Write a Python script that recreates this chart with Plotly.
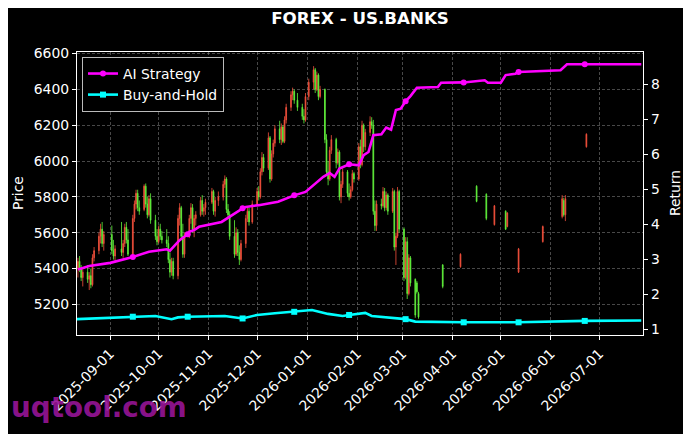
import plotly.graph_objects as go

# ---------------- data ----------------
candle_dates = [
    "2025-08-12","2025-08-13","2025-08-14","2025-08-15","2025-08-18","2025-08-19","2025-08-20","2025-08-21","2025-08-22",
    "2025-08-25","2025-08-26","2025-08-27","2025-08-28","2025-09-02","2025-09-03","2025-09-04","2025-09-08","2025-09-09",
    "2025-09-10","2025-09-11","2025-09-12","2025-09-15","2025-09-16","2025-09-17","2025-09-18","2025-09-19","2025-09-22",
    "2025-09-23","2025-09-24","2025-09-25","2025-09-26","2025-09-29","2025-09-30","2025-10-01","2025-10-02","2025-10-03",
    "2025-10-06","2025-10-07","2025-10-08","2025-10-09","2025-10-10","2025-10-13","2025-10-14","2025-10-15","2025-10-16",
    "2025-10-17","2025-10-20","2025-10-21","2025-10-22","2025-10-23","2025-10-24","2025-10-27","2025-10-28","2025-10-29",
    "2025-10-30","2025-11-03","2025-11-04","2025-11-05","2025-11-07","2025-11-10","2025-11-11","2025-11-12","2025-11-13",
    "2025-11-14","2025-11-17","2025-11-18","2025-11-19","2025-11-20","2025-11-21","2025-11-24","2025-11-25","2025-11-26",
    "2025-11-28","2025-12-01","2025-12-02","2025-12-03","2025-12-04","2025-12-05","2025-12-08","2025-12-09","2025-12-10",
    "2025-12-11","2025-12-12","2025-12-15","2025-12-16","2025-12-17","2025-12-18","2025-12-19","2025-12-22","2025-12-23",
    "2025-12-24","2025-12-26","2025-12-29","2025-12-30","2025-12-31","2026-01-02","2026-01-05","2026-01-06","2026-01-07",
    "2026-01-08","2026-01-09","2026-01-12","2026-01-13","2026-01-14","2026-01-15","2026-01-16","2026-01-19","2026-01-20",
    "2026-01-21","2026-01-22","2026-01-23","2026-01-26","2026-01-27","2026-01-28","2026-01-29","2026-01-30","2026-02-02",
    "2026-02-03","2026-02-04","2026-02-05","2026-02-06","2026-02-09","2026-02-10","2026-02-11","2026-02-12","2026-02-13",
    "2026-02-16","2026-02-17","2026-02-18","2026-02-19","2026-02-20","2026-02-23","2026-02-24","2026-02-25","2026-02-26",
    "2026-02-27","2026-03-02","2026-03-03","2026-03-04","2026-03-05","2026-03-06","2026-03-09","2026-03-10","2026-03-11",
    "2026-03-26","2026-04-06","2026-04-16","2026-04-22","2026-04-27","2026-05-04","2026-05-05","2026-05-12","2026-05-27",
    "2026-06-08","2026-06-09","2026-06-10","2026-06-23",
]
opens = [
    5400,5440,5400,5350,5380,5340,5360,5310,5460,
    5500,5580,5620,5540,5590,5500,5470,5510,5490,
    5540,5630,5560,5480,5680,5760,5820,5740,5730,
    5860,5760,5700,5790,5670,5580,5550,5620,5580,
    5560,5540,5450,5380,5440,5360,5680,5740,5580,
    5480,5580,5680,5740,5620,5680,5700,5780,5720,
    5740,5770,5830,5720,5780,5800,5870,5900,5730,
    5700,5580,5480,5600,5490,5450,5540,5680,5720,
    5660,5760,5830,5800,5940,6020,5960,6130,5900,
    6040,6100,6180,6120,6190,6110,6230,6300,6370,
    6390,6340,6300,6250,6230,6360,6440,6510,6400,
    6480,6360,6400,6120,5940,5900,6060,6120,5990,
    6050,5800,5870,5940,5820,5800,5840,5930,5900,
    6080,5980,6200,6080,6160,6220,6200,5720,5640,
    5760,5750,5830,5740,5810,5720,5830,5520,5580,
    5830,5620,5350,5550,5260,5460,5340,5320,5260,
    5420,5410,5860,5815,5645,5720,5635,5380,5550,
    5690,5780,5700,6080,
]
highs = [
    5460,5470,5420,5400,5420,5380,5400,5480,5520,
    5600,5650,5660,5610,5640,5560,5530,5660,5560,
    5650,5660,5620,5700,5780,5840,5840,5780,5870,
    5875,5800,5810,5820,5700,5620,5640,5650,5610,
    5620,5580,5490,5460,5460,5700,5765,5750,5650,
    5600,5700,5765,5760,5700,5720,5800,5810,5760,
    5790,5850,5840,5800,5830,5890,5920,5910,5760,
    5720,5670,5630,5620,5530,5560,5700,5740,5740,
    5780,5850,5860,5960,6050,6040,6160,6140,6060,
    6120,6200,6225,6210,6200,6250,6320,6390,6410,
    6400,6380,6320,6290,6380,6460,6530,6520,6500,
    6490,6420,6405,6150,6000,6080,6145,6130,6070,
    6060,5890,5960,5950,5875,5860,5950,5940,6100,
    6120,6225,6210,6180,6250,6245,6230,5780,5780,
    5790,5855,5850,5830,5820,5850,5840,5600,5855,
    5840,5630,5575,5575,5480,5470,5345,5330,5270,
    5425,5485,5865,5820,5755,5725,5715,5515,5640,
    5810,5795,5810,6155,
]
lows = [
    5350,5380,5330,5300,5320,5280,5290,5300,5440,
    5480,5540,5520,5500,5480,5450,5440,5470,5460,
    5520,5540,5470,5470,5660,5730,5720,5700,5720,
    5740,5680,5690,5650,5560,5530,5540,5560,5540,
    5520,5430,5350,5360,5340,5340,5640,5560,5460,
    5460,5570,5650,5600,5575,5640,5690,5700,5690,
    5700,5760,5700,5690,5750,5780,5850,5710,5680,
    5560,5460,5470,5470,5420,5440,5515,5660,5640,
    5650,5750,5780,5790,5920,5940,5950,5880,5890,
    6020,6080,6100,6090,6100,6100,6210,6280,6340,
    6320,6280,6230,6210,6220,6340,6400,6380,6390,
    6340,6350,6100,5920,5865,5890,6040,5960,5980,
    5780,5765,5850,5800,5780,5790,5830,5880,5890,
    5960,5970,6050,6060,6140,6180,5700,5610,5610,
    5730,5740,5720,5725,5700,5710,5500,5420,5570,
    5600,5330,5340,5230,5250,5300,5125,5260,5120,
    5290,5405,5770,5670,5640,5615,5630,5375,5545,
    5680,5690,5665,6075,
]
closes = [
    5440,5400,5350,5380,5340,5360,5310,5460,5500,
    5580,5620,5540,5590,5500,5470,5510,5490,5540,
    5630,5560,5480,5680,5760,5820,5740,5720,5860,
    5760,5700,5790,5670,5580,5550,5620,5580,5560,
    5540,5450,5380,5440,5360,5680,5740,5580,5480,
    5580,5680,5740,5620,5680,5700,5780,5720,5740,
    5770,5830,5720,5780,5800,5870,5900,5730,5700,
    5580,5480,5600,5490,5450,5540,5680,5720,5660,
    5760,5830,5800,5940,6020,5960,6130,5900,6040,
    6100,6180,6120,6190,6110,6230,6300,6370,6390,
    6340,6300,6250,6230,6360,6440,6510,6400,6480,
    6360,6400,6120,5940,5900,6060,6120,5990,6050,
    5800,5870,5940,5820,5800,5840,5930,5900,6080,
    5980,6200,6080,6160,6220,6200,5720,5640,5760,
    5750,5830,5740,5810,5720,5830,5520,5580,5830,
    5620,5350,5550,5260,5460,5320,5140,5270,5130,
    5300,5480,5775,5680,5750,5620,5710,5510,5635,
    5790,5700,5790,6150,
]

ai_dates = [
    "2025-08-12","2025-08-15","2025-08-19","2025-09-01","2025-09-15","2025-09-25","2025-10-06","2025-10-08",
    "2025-10-12","2025-10-14","2025-10-19","2025-10-20","2025-10-23","2025-10-26","2025-11-09","2025-11-14",
    "2025-11-20","2025-11-22","2025-11-24","2025-12-02","2025-12-14","2025-12-22","2025-12-24","2025-12-31",
    "2026-01-06","2026-01-11","2026-01-15","2026-01-18","2026-01-21","2026-01-26","2026-01-27","2026-02-02",
    "2026-02-05","2026-02-08","2026-02-11","2026-02-16","2026-02-19","2026-02-22","2026-02-25","2026-02-28",
    "2026-03-03","2026-03-06","2026-03-10","2026-03-23","2026-03-25","2026-04-08","2026-04-21","2026-04-23",
    "2026-05-01","2026-05-04","2026-05-10","2026-05-12","2026-05-24","2026-06-07","2026-06-11","2026-06-22",
    "2026-07-27",
]
ai_values = [
    2.71,2.76,2.81,2.90,3.07,3.22,3.29,3.25,
    3.46,3.55,3.72,3.79,3.84,3.93,4.07,4.22,
    4.41,4.46,4.50,4.55,4.65,4.81,4.83,4.93,
    5.17,5.36,5.47,5.36,5.60,5.72,5.72,5.69,
    5.98,6.07,6.55,6.58,6.77,6.71,7.27,7.31,
    7.52,7.67,7.91,7.93,8.05,8.06,8.12,8.05,
    8.05,8.27,8.31,8.36,8.39,8.41,8.58,8.58,
    8.58,
]

bh_dates = [
    "2025-08-11","2025-08-24","2025-09-01","2025-09-15","2025-09-29","2025-10-09","2025-10-13","2025-10-19",
    "2025-10-28","2025-11-11","2025-11-22","2025-12-01","2025-12-12","2025-12-24","2026-01-04","2026-01-14",
    "2026-01-23","2026-01-27","2026-02-06","2026-02-10","2026-02-20","2026-02-25","2026-03-03","2026-03-09",
    "2026-03-29","2026-04-08","2026-05-12","2026-06-10","2026-06-22","2026-07-27",
]
bh_values = [
    1.29,1.31,1.34,1.36,1.38,1.29,1.34,1.36,
    1.36,1.38,1.31,1.41,1.46,1.50,1.55,1.44,
    1.38,1.41,1.47,1.38,1.34,1.31,1.29,1.22,
    1.20,1.20,1.20,1.24,1.24,1.25,
]

marker_dates = ["2025-09-15","2025-10-19","2025-11-22","2025-12-24","2026-01-27",
                "2026-03-03","2026-04-08","2026-05-12","2026-06-22"]

month_ticks = ["2025-09-01","2025-10-01","2025-11-01","2025-12-01","2026-01-01","2026-02-01",
               "2026-03-01","2026-04-01","2026-05-01","2026-06-01","2026-07-01"]

price_ticks = [5200, 5400, 5600, 5800, 6000, 6200, 6400, 6600]
return_ticks = [1, 2, 3, 4, 5, 6, 7, 8]

# ---------------- style ----------------
FONT = "DejaVu Sans"
UP = "#f5503c"
DOWN = "#62f53c"
MAGENTA = "#ff00ff"
CYAN = "#00ffff"
GRID = "rgba(120,120,120,0.6)"

fig = go.Figure()

fig.add_trace(go.Candlestick(
    x=candle_dates, open=opens, high=highs, low=lows, close=closes,
    increasing=dict(line=dict(color=UP, width=0.8), fillcolor=UP),
    decreasing=dict(line=dict(color=DOWN, width=0.8), fillcolor=DOWN),
    whiskerwidth=0,
    showlegend=False, hoverinfo="skip", yaxis="y",
))

def pick(dates, vals, keys):
    xs, ys = [], []
    for d, v in zip(dates, vals):
        if d in keys:
            xs.append(d); ys.append(v)
    return xs, ys

fig.add_trace(go.Scatter(x=ai_dates, y=ai_values, mode="lines", yaxis="y2",
                         line=dict(color=MAGENTA, width=2.6), showlegend=False))
fig.add_trace(go.Scatter(x=bh_dates, y=bh_values, mode="lines", yaxis="y2",
                         line=dict(color=CYAN, width=2.6), showlegend=False))
mx, my = pick(ai_dates, ai_values, marker_dates)
fig.add_trace(go.Scatter(x=mx, y=my, mode="markers", yaxis="y2",
                         marker=dict(color=MAGENTA, size=6, symbol="circle"), showlegend=False))
mx, my = pick(bh_dates, bh_values, marker_dates)
fig.add_trace(go.Scatter(x=mx, y=my, mode="markers", yaxis="y2",
                         marker=dict(color=CYAN, size=6, symbol="square"), showlegend=False))

# legend entries
fig.add_trace(go.Scatter(x=[None], y=[None], mode="lines+markers", name="AI Strategy", yaxis="y2",
                         line=dict(color=MAGENTA, width=2.6), marker=dict(color=MAGENTA, size=6, symbol="circle")))
fig.add_trace(go.Scatter(x=[None], y=[None], mode="lines+markers", name="Buy-and-Hold", yaxis="y2",
                         line=dict(color=CYAN, width=2.6), marker=dict(color=CYAN, size=6, symbol="square")))

# the page places the figure 8px in from the window's top-left corner
OFF = 8
W, H = 691 - OFF, 434 - OFF
L, R, T, B = 77, 643, 52, 335   # plot area in window pixels

def px(xp):
    return (xp - L) / (R - L)

def py(yp):
    return (B - yp) / (B - T)

fig.update_layout(
    width=W, height=H,
    margin=dict(l=L - OFF, r=691 - R, t=T - OFF, b=434 - B),
    paper_bgcolor="black", plot_bgcolor="black",
    font=dict(family=FONT, size=13.9, color="white"),
    title=dict(text="<b>FOREX - US.BANKS</b>", x=0.5, xref="paper", xanchor="center",
               y=1 - (18 - OFF) / H, yref="container", yanchor="middle",
               font=dict(family=FONT, size=16.7, color="white")),
    xaxis=dict(
        type="date", range=["2025-08-11 10:00", "2026-07-28 02:00"],
        tickvals=month_ticks, tickformat="%Y-%m-%d", tickangle=-45,
        rangeslider=dict(visible=False),
        showgrid=True, gridcolor=GRID, griddash="3px,2px", gridwidth=0.6,
        showline=True, linecolor="white", linewidth=1.2, mirror=True,
        ticks="outside", ticklen=4, tickcolor="white", zeroline=False,
        tickfont=dict(size=13.9, color="white"),
    ),
    yaxis=dict(
        range=[5029, 6609], tickvals=price_ticks,
        showgrid=True, gridcolor=GRID, griddash="3px,2px", gridwidth=0.6,
        showline=True, linecolor="white", linewidth=1.2, mirror=True,
        ticks="outside", ticklen=4, tickcolor="white", zeroline=False,
        tickfont=dict(size=13.9, color="white"),
    ),
    yaxis2=dict(
        range=[0.837, 8.93], tickvals=return_ticks, overlaying="y", side="right",
        showgrid=False, showline=True, linecolor="white", linewidth=1.2,
        ticks="outside", ticklen=4, tickcolor="white", zeroline=False,
        tickfont=dict(size=13.9, color="white"),
    ),
    legend=dict(x=px(82), y=py(57), xanchor="left", yanchor="top",
                bgcolor="black", bordercolor="rgba(220,220,220,0.85)", borderwidth=1,
                font=dict(family=FONT, size=13.9, color="white"), tracegroupgap=0),
    showlegend=True,
    annotations=[
        dict(text="Price", x=px(18), y=py(193), xref="paper", yref="paper", showarrow=False,
             xanchor="center", yanchor="middle",
             textangle=-90, font=dict(family=FONT, size=13.9, color="white")),
        dict(text="Return", x=px(675), y=py(193), xref="paper", yref="paper", showarrow=False,
             xanchor="center", yanchor="middle",
             textangle=-90, font=dict(family=FONT, size=13.9, color="white")),
        dict(text="<b>uqtool.com</b>", x=px(9), y=py(407), xref="paper", yref="paper", showarrow=False,
             xanchor="left", yanchor="middle",
             font=dict(family=FONT, size=27.8, color="rgba(150,20,150,0.92)")),
    ],
)

fig.write_html("out.html")
